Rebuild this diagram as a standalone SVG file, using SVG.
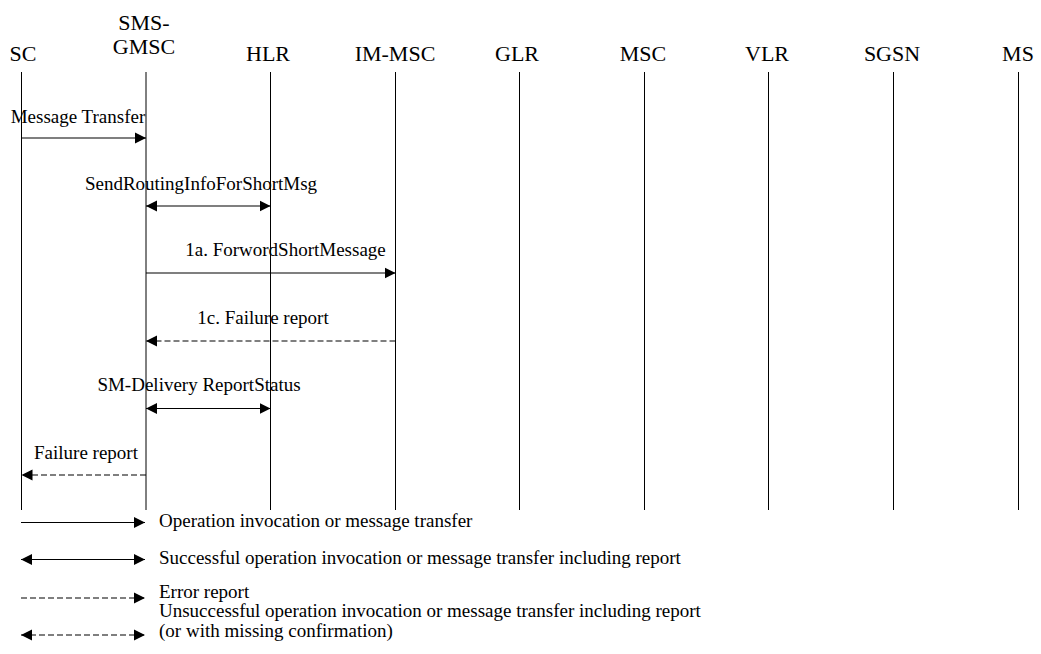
<svg xmlns="http://www.w3.org/2000/svg" width="1041" height="654" viewBox="0 0 1041 654" font-family="'Liberation Serif','Times New Roman',serif">
<style>
text{font-family:"Liberation Serif","Times New Roman",serif;fill:#000}
.h{font-size:22px;text-anchor:middle}
.l{font-size:19px;text-anchor:middle}
.g{font-size:19px}
.life{stroke:#000;stroke-width:1}
.m{stroke:#000;stroke-width:1.2;fill:none}
.d{stroke-dasharray:6,3}
</style>
<defs>
<marker id="ah" markerUnits="userSpaceOnUse" markerWidth="12" markerHeight="12" viewBox="0 0 12 12" refX="11" refY="6" orient="auto-start-reverse">
<path d="M0,0.5 L11,6 L0,11.5 Z" fill="#000"/>
</marker>
</defs>
<rect width="1041" height="654" fill="#fff"/>
<g id="node-SC"><text class="h" x="23" y="61">SC</text><line class="life" x1="21.5" y1="72" x2="21.5" y2="510"/></g>
<g id="node-SMS-GMSC"><text class="h" x="144" y="30">SMS-</text><text class="h" x="144" y="54">GMSC</text><line class="life" x1="146" y1="72" x2="146" y2="510"/></g>
<g id="node-HLR"><text class="h" x="268" y="61">HLR</text><line class="life" x1="270.5" y1="72" x2="270.5" y2="510"/></g>
<g id="node-IM-MSC"><text class="h" x="395" y="61">IM-MSC</text><line class="life" x1="395.5" y1="72" x2="395.5" y2="510"/></g>
<g id="node-GLR"><text class="h" x="517" y="61">GLR</text><line class="life" x1="519.5" y1="72" x2="519.5" y2="510"/></g>
<g id="node-MSC"><text class="h" x="643" y="61">MSC</text><line class="life" x1="644.5" y1="72" x2="644.5" y2="510"/></g>
<g id="node-VLR"><text class="h" x="767" y="61">VLR</text><line class="life" x1="768.5" y1="72" x2="768.5" y2="510"/></g>
<g id="node-SGSN"><text class="h" x="892" y="61">SGSN</text><line class="life" x1="893.5" y1="72" x2="893.5" y2="510"/></g>
<g id="node-MS"><text class="h" x="1018" y="61">MS</text><line class="life" x1="1018.5" y1="72" x2="1018.5" y2="510"/></g>
<g id="connectors">
<line class="m" x1="21.5" y1="138" x2="146" y2="138" marker-end="url(#ah)"/>
<text class="l" x="78" y="123">Message Transfer</text>
<line class="m" x1="146" y1="206" x2="270.5" y2="206" marker-start="url(#ah)" marker-end="url(#ah)"/>
<text class="l" x="201" y="190">SendRoutingInfoForShortMsg</text>
<line class="m" x1="146" y1="273" x2="395.5" y2="273" marker-end="url(#ah)"/>
<text class="l" x="285.5" y="256">1a. ForwordShortMessage</text>
<line class="m d" x1="395.5" y1="341" x2="146" y2="341" marker-end="url(#ah)"/>
<text class="l" x="263" y="324">1c. Failure report</text>
<line class="m" x1="146" y1="408.5" x2="270.5" y2="408.5" marker-start="url(#ah)" marker-end="url(#ah)"/>
<text class="l" x="199" y="391">SM-Delivery ReportStatus</text>
<line class="m d" x1="146" y1="475" x2="21.5" y2="475" marker-end="url(#ah)"/>
<text class="l" x="86" y="459">Failure report</text>
</g>
<g id="legend">
<line class="m" x1="21" y1="522.5" x2="145" y2="522.5" marker-end="url(#ah)"/>
<text class="g" x="159" y="527">Operation invocation or message transfer</text>
<line class="m" x1="21" y1="559.5" x2="145" y2="559.5" marker-start="url(#ah)" marker-end="url(#ah)"/>
<text class="g" x="159" y="564">Successful operation invocation or message transfer including report</text>
<line class="m d" x1="21" y1="598" x2="145" y2="598" marker-end="url(#ah)"/>
<text class="g" x="159" y="598">Error report</text>
<line class="m d" x1="21" y1="635" x2="145" y2="635" marker-start="url(#ah)" marker-end="url(#ah)"/>
<text class="g" x="159" y="617">Unsuccessful operation invocation or message transfer including report</text>
<text class="g" x="159" y="637">(or with missing confirmation)</text>
</g>
</svg>
